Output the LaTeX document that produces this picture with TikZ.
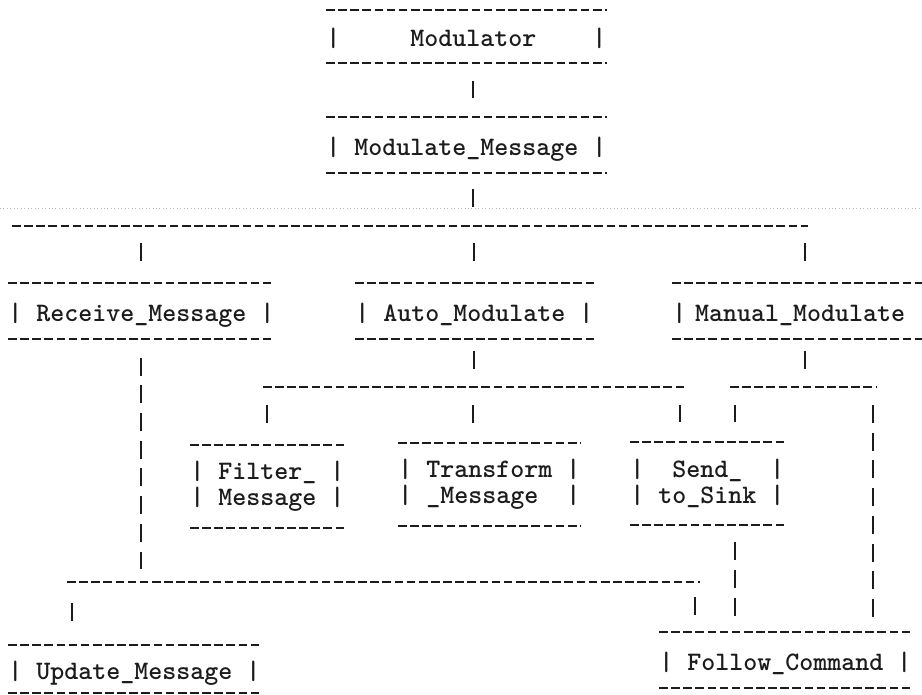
\documentclass[tikz,border=0pt]{standalone}
\usetikzlibrary{positioning}
\definecolor{ink}{HTML}{1C1C1C}
\definecolor{scan}{HTML}{B9B9B9}

\tikzset{
  dashrule/.style={draw=ink, line width=1.5pt, dash pattern=on 6.5pt off 2.6pt},
  barrule/.style={draw=ink, line width=1.4pt, dash pattern=on 13.5pt off 7.3pt},
  tbox/.style={anchor=north west, inner sep=0pt, minimum height=41.25pt, align=left, text=ink,
    text height=16.5pt, text depth=0.5pt,
    font=\fontsize{20pt}{19.5pt}\selectfont\ttfamily\bfseries,
    append after command={(\tikzlastnode.north west) edge[dashrule] (\tikzlastnode.north east)
      (\tikzlastnode.south west) edge[dashrule] (\tikzlastnode.south east)}},
  tbox2/.style={tbox, minimum height=62pt, text height={}, text depth={}}
}

\begin{document}
\begin{tikzpicture}[x=0.75pt, y=-0.75pt]
\useasboundingbox (0,0) rectangle (922,695);
\clip (0,0) rectangle (922,695);
\draw[scan, dotted, line width=0.6pt] (0,208) -- (922,208);

\node[tbox, minimum height=39pt] (mod) at (326,10) {|\ \ \ \ \ Modulator\ \ \ \ |};
\node[tbox] (msg) at (326,117) {| Modulate\_Message |};
\node[tbox] (rcv) at (8,283) {| Receive\_Message |};
\node[tbox] (auto) at (355,283) {| Auto\_Modulate |};
\node[tbox, text width=199.5pt] (man) at (672,283) {| Manual\_Modulate};
\node[tbox2] (filt) at (190,445) {| Filter\_ |\\| Message |};
\node[tbox2] (trans) at (398,443) {| Transform |\\| \_Message\ \ |};
\node[tbox2] (send) at (630,442) {|\ \ Send\_\ \ |\\| to\_Sink |};
\node[tbox, minimum height=35.25pt] (upd) at (8,645) {| Update\_Message |};
\node[tbox] (fol) at (659,632) {| Follow\_Command |};

\coordinate (colA) at (473,0);
\coordinate (colS) at (680,0);
\coordinate (colR) at (735,0);
\coordinate (colM) at (873,0);
\coordinate (colT) at (695,0);
\coordinate (colU) at (72,0);
\coordinate (b1w) at (12,226);  \coordinate (b1e) at (808,226);
\coordinate (b2w) at (263,387); \coordinate (b2e) at (687,387);
\coordinate (b3w) at (730,387); \coordinate (b3e) at (877,387);
\coordinate (b4w) at (67,582);  \coordinate (b4e) at (700,582);

\draw[barrule, shorten <=13.5pt, shorten >=14pt] (mod.south -| colA) -- (msg.north -| colA);
\draw[barrule, shorten <=12pt, shorten >=13.5pt] (msg.south -| colA) -- (b1w -| colA);
\draw[dashrule] (b1w) -- (b1e);
\foreach \n in {rcv,auto,man}
  \draw[barrule, shorten <=12.75pt, shorten >=15pt] (b1w -| \n.north) -- (\n.north);

\draw[barrule, shorten <=9pt, shorten >=12.75pt] (auto.south) -- (auto.south |- b2w);
\draw[dashrule] (b2w) -- (b2e);
\draw[barrule, shorten <=13.5pt, shorten >=15pt] (b2w -| filt.north) -- (filt.north);
\draw[barrule, shorten <=13.5pt, shorten >=15pt] (b2w -| colA) -- (trans.north -| colA);
\draw[barrule, shorten <=13.5pt, shorten >=15pt] (b2w -| colS) -- (send.north -| colS);

\draw[barrule, shorten <=9pt, shorten >=12.75pt] (man.south) -- (man.south |- b3w);
\draw[dashrule] (b3w) -- (b3e);
\draw[barrule, shorten <=13.5pt, shorten >=15pt] (b3w -| colR) -- (send.north -| colR);
\draw[barrule, shorten <=13.5pt, shorten >=11.25pt] (b3w -| colM) -- (fol.north -| colM);

\draw[barrule, shorten <=14.25pt, shorten >=9.75pt] (rcv.south) -- (rcv.south |- b4w);
\draw[dashrule] (b4w) -- (b4e);
\draw[barrule, shorten <=15.75pt, shorten >=13.5pt] (b4w -| colU) -- (upd.north -| colU);
\draw[barrule, shorten <=11.25pt, shorten >=11.25pt] (b4w -| colT) -- (fol.north -| colT);
\draw[barrule, shorten <=12.75pt, shorten >=11.25pt] (send.south -| colR) -- (fol.north -| colR);
\end{tikzpicture}
\end{document}
